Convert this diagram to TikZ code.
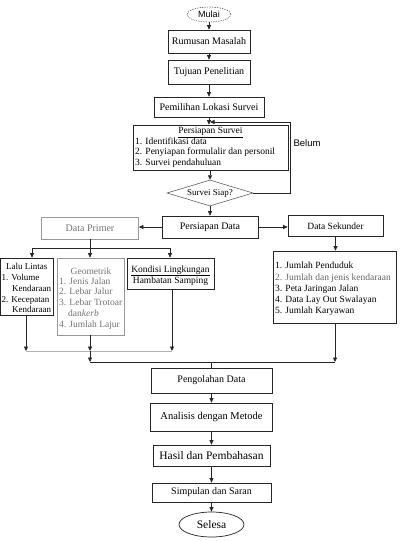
\documentclass[tikz,border=0pt]{standalone}
\usepackage{fontspec}
\setmainfont{Liberation Serif}
\newfontfamily\sansf{Liberation Sans}
\usetikzlibrary{arrows.meta,shapes.geometric}
\begin{document}
\begin{tikzpicture}[x=1pt,y=-1pt]
\tikzset{
 bx/.style={draw=black!85, line width=0.7pt, inner sep=0pt, font=\fontsize{10}{12}\selectfont},
 gbx/.style={bx, draw=black!40, text=black!55},
 ar/.style={draw=black!85, line width=0.7pt, -{Triangle[length=4.5pt,width=4pt]}},
 ln/.style={draw=black!85, line width=0.7pt},
 tx/.style={inner sep=0pt, font=\fontsize{9.5}{12}\selectfont, anchor=base west},
 txs/.style={tx, font=\fontsize{9}{11}\selectfont},
 txg/.style={tx, font=\fontsize{9.5}{11}\selectfont, text=black!55},
}
\useasboundingbox (0,0) rectangle (400,541);
\fill[white] (0,0) rectangle (400,541);

% top chain
\node[draw=black!80, dash pattern=on 1.5pt off 1pt, ellipse, minimum width=44, minimum height=15, inner sep=0pt, font=\sansf\fontsize{9}{11}\selectfont] (mulai) at (209,14.5) {Mulai};
\node[bx, minimum width=82, minimum height=23] (rm) at (209,41.5) {Rumusan Masalah};
\node[bx, minimum width=82, minimum height=24] (tp) at (209,72) {Tujuan Penelitian};
\node[bx, minimum width=110, minimum height=20] (pl) at (209,107) {Pemilihan Lokasi Survei};
\node[bx, minimum width=155, minimum height=45] (ps) at (210.5,147.5) {};
\node[tx, anchor=base] (ps0) at (210.5,133.5) {\underline{Persiapan Survei}};
\node[tx] (ps1) at (135,144) {1. Identifikasi data};
\node[tx] (ps2) at (135,154.5) {2. Penyiapan formulalir dan personil};
\node[tx] (ps3) at (135,165) {3. Survei pendahuluan};
\node[draw=black!70, line width=0.5pt, diamond, aspect=3.3, minimum width=86, minimum height=26, inner sep=0pt, font=\fontsize{9}{11}\selectfont] (siap) at (210,193) {Survei Siap?};
\node[inner sep=0pt, font=\sansf\fontsize{9.5}{11}\selectfont] (belum) at (307,143) {Belum};

\draw[ar] (mulai.south) -- (rm.north);
\draw[ar] (rm.south) -- (tp.north);
\draw[ar] (tp.south) -- (pl.north);
\draw[ar] (pl.south) -- (pl.south |- ps.north);
\draw[ar] (siap.north |- ps.south) -- (siap.north);
\coordinate (lpA) at (290,193);
\coordinate (lpB) at (290,122);
\coordinate (lpC) at (210,122);
\draw[ar] (siap.east) -- (lpA) -- (lpB) -- (lpC);

% second level
\node[bx, minimum width=96, minimum height=22] (pd) at (210,227) {Persiapan Data};
\node[gbx, minimum width=97, minimum height=22] (dp) at (90,228) {Data Primer};
\node[bx, minimum width=95, minimum height=21, font=\fontsize{9.5}{11}\selectfont] (ds) at (335.5,226) {Data Sekunder};
\draw[ar] (siap.south) -- (siap.south |- pd.north);
\draw[ar] (pd.west) -- (pd.west -| dp.east);
\draw[ar] (pd.east) -- (pd.east -| ds.west);

% secondary list
\node[bx, minimum width=123, minimum height=72] (ls) at (334.5,287) {};
\draw[ar] (ds.south) -- (ds.south |- ls.north);
\node[tx] (ls1) at (275,268) {1. Jumlah Penduduk};
\node[tx, text=black!60] (ls2) at (275,280) {2. Jumlah dan jenis kendaraan};
\node[tx] (ls3) at (275,291) {3. Peta Jaringan Jalan};
\node[tx] (ls4) at (275,302) {4. Data Lay Out Swalayan};
\node[tx] (ls5) at (275,313) {5. Jumlah Karyawan};

% primary branches
\node[bx, minimum width=52.5, minimum height=57] (ll) at (26.75,286.5) {};
\node[gbx, minimum width=67, minimum height=77] (geo) at (90.5,296.5) {};
\node[bx, minimum width=87, minimum height=31] (kl) at (170.5,273.5) {};

\coordinate (j1) at (90,248);
\coordinate (jl) at (32,248);
\coordinate (jr) at (170,248);
\draw[ln] (dp.south) -- (j1);
\draw[ln] (jl) -- (jr);
\draw[ar] (jl) -- (jl |- ll.north);
\draw[ar] (j1) -- (j1 |- geo.north);
\draw[ar] (jr) -- (jr |- kl.north);

\node[txs] (ll0) at (6,269) {Lalu Lintas};
\node[txs] (ll1) at (1.5,280) {1. Volume};
\node[txs] (ll2) at (12,291) {Kendaraan};
\node[txs] (ll3) at (1.5,302) {2. Kecepatan};
\node[txs] (ll4) at (12,312) {Kendaraan};

\node[txg, anchor=base] (ge0) at (91,274) {Geometrik};
\node[txg] (ge1) at (59,284) {1. Jenis Jalan};
\node[txg] (ge2) at (59,294.5) {2. Lebar Jalur};
\node[txg] (ge3) at (59,305) {3. Lebar Trotoar};
\node[txg] (ge4) at (68,316) {dan\textit{kerb}};
\node[txg] (ge5) at (59,327) {4. Jumlah Lajur};

\node[tx, anchor=base] (kl0) at (170.5,272) {\underline{Kondisi Lingkungan}};
\node[tx, anchor=base] (kl1) at (170.5,283.5) {Hambatan Samping};

% collectors
\coordinate (g1) at (26,351);
\coordinate (g2) at (90,351);
\coordinate (g3) at (172,351);
\draw[draw=black!30, line width=0.8pt] (g1) -- (g3);
\draw[ar] (g1 |- ll.south) -- (g1);
\draw[ar] (g2 |- geo.south) -- (g2);
\draw[ar] (g3 |- kl.south) -- (g3);
\coordinate (h1) at (90,362);
\coordinate (h2) at (335,362);
\coordinate (h3) at (211.5,362);
\draw[ar] (g2) -- (h1);
\draw[ln, line width=1pt] (h1) -- (h2);
\draw[ar] (h2 |- ls.south) -- (h2);

% bottom chain
\node[bx, minimum width=121, minimum height=25] (po) at (211.5,380.5) {Pengolahan Data};
\node[bx, minimum width=122, minimum height=28, font=\fontsize{10.5}{12}\selectfont] (an) at (211.5,417) {Analisis dengan Metode};
\node[bx, minimum width=117, minimum height=21, font=\fontsize{11.5}{13}\selectfont] (ha) at (211.5,455.5) {Hasil dan Pembahasan};
\node[bx, minimum width=119, minimum height=19] (si) at (211.5,492.5) {Simpulan dan Saran};
\node[draw=black!85, line width=0.7pt, ellipse, minimum width=65, minimum height=25, inner sep=0pt, font=\fontsize{11.5}{13}\selectfont] (se) at (211.5,524.5) {Selesa};

\draw[ln] (h3) -- (h3 |- po.north);
\draw[ar] (po.south) -- (an.north);
\draw[ar] (an.south) -- (ha.north);
\draw[ar] (ha.south) -- (si.north);
\draw[ar] (si.south) -- (se.north);
\end{tikzpicture}
\end{document}
